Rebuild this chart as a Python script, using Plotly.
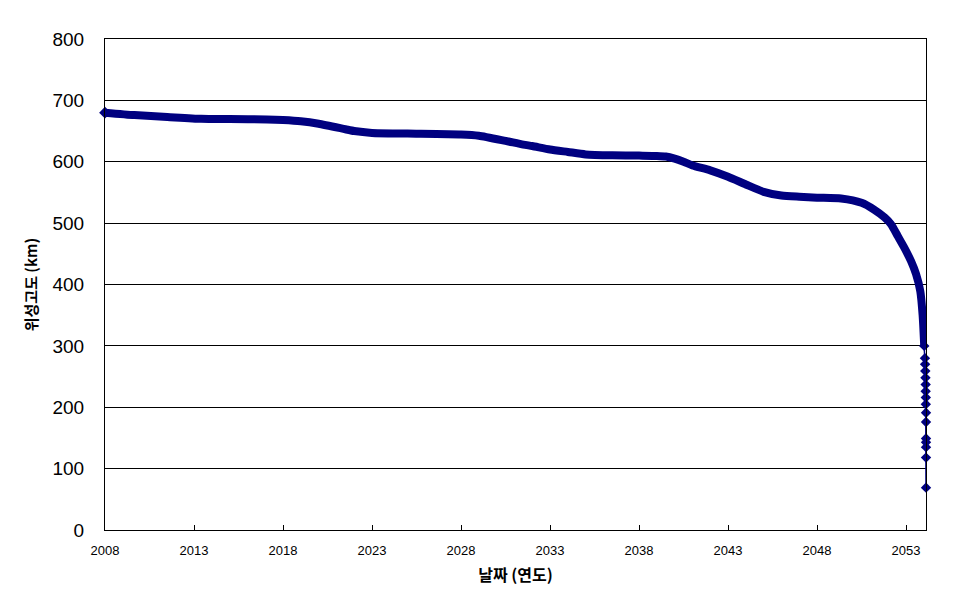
import plotly.graph_objects as go

# Satellite altitude (km) vs. date (decimal year)
years_main = [2008.0, 2009.65, 2011.5, 2013.4, 2015.0, 2017.1, 2018.0, 2019.0, 2020.0,
              2021.5, 2022.0, 2023.0, 2025.0, 2028.0, 2029.0, 2030.5, 2031.5, 2032.0,
              2033.0, 2034.0, 2035.0, 2036.5, 2038.0, 2039.0, 2039.5, 2040.0, 2040.5,
              2041.0, 2042.0, 2043.0, 2044.0, 2045.0, 2046.0, 2047.0, 2048.0, 2049.35,
              2050.5, 2051.2, 2051.8, 2052.16, 2052.53, 2052.9, 2053.28, 2053.56,
              2053.8, 2053.93, 2054.02]
alt_main = [680, 676, 673, 670, 669.5, 669, 668, 666, 662,
            653, 650, 647, 646, 644.5, 642.5, 634, 628, 625.6,
            620, 616, 612, 610.5, 610, 609.5, 608.5, 605, 600,
            594, 586, 575.5, 563, 551, 545, 543, 541.5, 540,
            533, 522, 509, 498, 479, 460, 438, 417,
            389, 350, 300]

years_tail = [2054.02, 2054.06, 2054.07, 2054.08, 2054.09, 2054.1, 2054.1, 2054.11,
              2054.11, 2054.12, 2054.12, 2054.12, 2054.12, 2054.12, 2054.12, 2054.12]
alt_tail = [300, 280, 270, 259, 248, 237, 226, 216,
            205, 191, 176, 149, 143, 135, 118, 69]

tick_years = [2008, 2013, 2018, 2023, 2028, 2033, 2038, 2043, 2048, 2053]
y_ticks = [0, 100, 200, 300, 400, 500, 600, 700, 800]

NAVY = "#000080"

fig = go.Figure()
fig.add_trace(go.Scatter(
    x=years_main, y=alt_main, mode="lines",
    line=dict(color=NAVY, width=8, shape="spline", smoothing=0.6),
    showlegend=False, hoverinfo="skip", cliponaxis=False))
fig.add_trace(go.Scatter(
    x=years_tail, y=alt_tail, mode="lines+markers",
    line=dict(color=NAVY, width=1.5),
    marker=dict(symbol="diamond", size=8, color=NAVY),
    showlegend=False, cliponaxis=False))
fig.add_trace(go.Scatter(
    x=[years_main[0]], y=[alt_main[0]], mode="markers",
    marker=dict(symbol="diamond", size=9, color=NAVY),
    showlegend=False, cliponaxis=False))

fig.update_layout(
    width=977, height=600,
    margin=dict(l=97, r=59, t=31, b=78, autoexpand=False),
    paper_bgcolor="white", plot_bgcolor="white",
    font=dict(family="Liberation Sans, Arial, sans-serif", color="black"),
)
fig.update_xaxes(
    range=[2008, 2054.12], tickvals=tick_years, ticktext=[str(v) for v in tick_years],
    ticks="inside", ticklen=5, tickcolor="black", tickwidth=1,
    showline=True, linecolor="black", linewidth=1, mirror=True,
    showgrid=False, zeroline=False, automargin=False,
    tickfont=dict(size=13, family="Liberation Sans, Arial, sans-serif"),
    ticklabelstandoff=8,
    title=dict(text="날짜 (연도)", standoff=13,
               font=dict(size=16, family="Noto Sans CJK KR", weight="bold")),
)
fig.update_yaxes(
    range=[0, 800], tickvals=y_ticks, ticks="",
    showline=True, linecolor="black", linewidth=1, mirror=True,
    showgrid=True, gridcolor="black", gridwidth=1, zeroline=False, automargin=False,
    tickfont=dict(size=19, family="Liberation Sans, Arial, sans-serif"),
    ticklabelstandoff=16,
    title=dict(text="위성고도 (km)", standoff=11,
               font=dict(size=15, family="Noto Sans CJK KR", weight="bold")),
)

fig.write_html("out.html")
